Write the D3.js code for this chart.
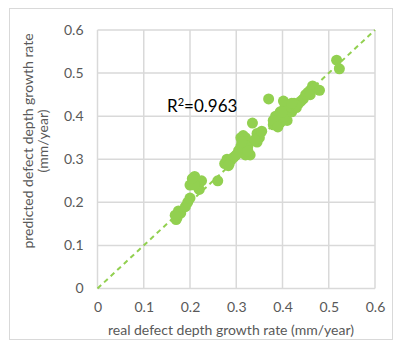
<!DOCTYPE html>
<html><head><meta charset="utf-8">
<script src="https://cdn.jsdelivr.net/npm/d3@7"></script>
<style>html,body{margin:0;padding:0;background:#fff;}svg{display:block;}</style>
</head><body>
<svg id="chart" width="395" height="341"></svg>
<script>
const realRate = [0.17,0.17,0.175,0.18,0.172,0.168,
 0.19,0.195,0.2,
 0.21,0.2,0.215,0.22,0.225,0.21,0.205,
 0.26,
 0.275,0.28,0.285,0.29,0.295,0.283,
 0.31,0.315,0.32,0.31,0.32,0.305,0.315,0.325,0.33,0.32,0.3,0.325,0.312,
 0.335,
 0.345,0.35,0.345,0.355,0.34,
 0.37,
 0.38,0.385,0.39,0.39,0.395,0.4,0.4,0.405,0.41,0.395,0.385,0.41,0.415,0.405,0.42,0.38,0.39,0.4,
 0.402,
 0.42,0.425,0.43,0.435,0.44,0.445,0.43,0.42,
 0.45,0.455,0.46,0.465,0.47,0.46,
 0.48,0.517,0.523];
const predictedRate = [0.16,0.17,0.18,0.175,0.165,0.17,
 0.19,0.2,0.21,
 0.26,0.24,0.25,0.23,0.25,0.24,0.255,
 0.25,
 0.29,0.3,0.29,0.3,0.305,0.285,
 0.35,0.355,0.35,0.33,0.34,0.32,0.32,0.33,0.31,0.31,0.31,0.32,0.34,
 0.384,
 0.36,0.35,0.34,0.365,0.345,
 0.44,
 0.38,0.39,0.4,0.38,0.41,0.4,0.39,0.42,0.41,0.385,0.4,0.39,0.42,0.4,0.41,0.39,0.375,0.41,
 0.435,
 0.42,0.43,0.42,0.43,0.435,0.44,0.425,0.43,
 0.45,0.455,0.46,0.47,0.465,0.45,
 0.46,0.53,0.51];
const xTicks = [0,0.1,0.2,0.3,0.4,0.5,0.6];
const yTicks = [0,0.1,0.2,0.3,0.4,0.5,0.6];
const xTitle = "real defect depth growth rate (mm/year)";
const yTitleLines = ["predicted defect depth growth rate","(mm/year)"];
const r2Label = "0.963";

const svg = d3.select("#chart");
const font = "Lato, 'Open Sans', sans-serif";
const green = "#92d050";
const grid = "#d9d9d9";
const textCol = "#595959";

// outer frame
svg.append("rect").attr("x",9.5).attr("y",8.5).attr("width",383).attr("height",331)
  .attr("fill","none").attr("stroke",grid).attr("stroke-width",1);

const x = d3.scaleLinear().domain([0,0.6]).range([97.5,375]);
const y = d3.scaleLinear().domain([0,0.6]).range([288.5,30]);

const g = svg.append("g");
// grid
g.selectAll(".vg").data(xTicks).join("line")
  .attr("x1",d=>x(d)).attr("x2",d=>x(d)).attr("y1",y(0)).attr("y2",y(0.6))
  .attr("stroke",grid).attr("stroke-width",1.5);
g.selectAll(".hg").data(yTicks).join("line")
  .attr("y1",d=>y(d)).attr("y2",d=>y(d)).attr("x1",x(0)).attr("x2",x(0.6))
  .attr("stroke",grid).attr("stroke-width",1.5);

// axes (labels only)
const xAxis = d3.axisBottom(x).tickValues(xTicks).tickSize(0).tickPadding(14).tickFormat(d=>d===0?"0":d3.format(".1f")(d));
const yAxis = d3.axisLeft(y).tickValues(yTicks).tickSize(0).tickPadding(14).tickFormat(d=>d===0?"0":d3.format(".1f")(d));
const gx = svg.append("g").attr("transform",`translate(0,${y(0)})`).call(xAxis);
const gy = svg.append("g").attr("transform",`translate(${x(0)},0)`).call(yAxis);
[gx,gy].forEach(a=>{a.select(".domain").remove();a.selectAll("text").attr("fill",textCol).style("font-family",font).style("font-size","14px");});

// diagonal dashed line
svg.append("line").attr("x1",x(0)).attr("y1",y(0)).attr("x2",x(0.6)).attr("y2",y(0.6))
  .attr("stroke",green).attr("stroke-width",2).attr("stroke-dasharray","5,4");

// points
svg.append("g").selectAll("circle").data(realRate.map((v,i)=>[v,predictedRate[i]])).join("circle")
  .attr("cx",d=>x(d[0])).attr("cy",d=>y(d[1])).attr("r",5.5).attr("fill",green);

// R2 label
const t = svg.append("text").attr("x",167).attr("y",112).attr("fill","#000")
  .style("font-family",font).style("font-size","17px");
t.append("tspan").text("R");
t.append("tspan").text("2").attr("dy",-6).style("font-size","11px");
t.append("tspan").text("=" + r2Label).attr("dy",6);

// titles
svg.append("text").attr("x",231).attr("y",335).attr("text-anchor","middle")
  .attr("fill",textCol).style("font-family",font).style("font-size","14px").text(xTitle);
const yt = svg.append("text").attr("transform",`translate(33,141) rotate(-90)`)
  .attr("text-anchor","middle").attr("fill",textCol).style("font-family",font).style("font-size","14px");
yt.append("tspan").attr("x",0).attr("dy",0).text(yTitleLines[0]);
yt.append("tspan").attr("x",0).attr("dy",15).text(yTitleLines[1]);
</script>
</body></html>
